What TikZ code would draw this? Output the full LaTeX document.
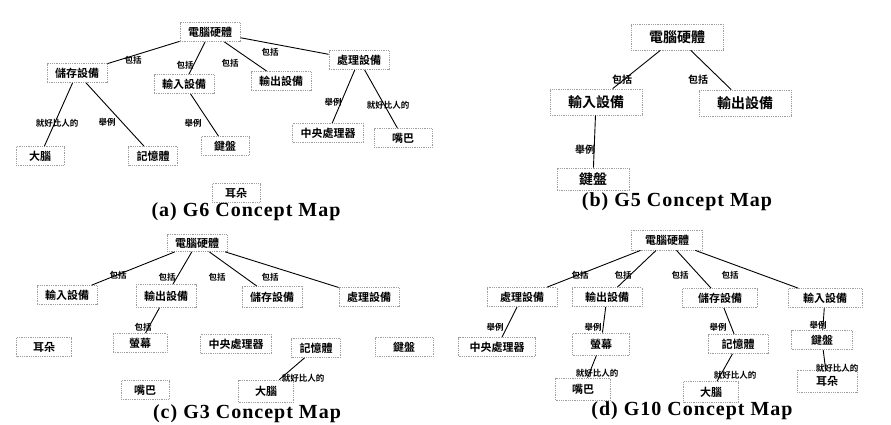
\documentclass[tikz,border=0pt]{standalone}
\usepackage{fontspec}
\setmainfont{Liberation Serif}
\newfontfamily\cjk{Noto Sans CJK TC}[BoldFont={Noto Sans CJK TC Bold}]
\newfontfamily\titlefont{Liberation Serif}[LetterSpace=5]
\usetikzlibrary{positioning}

\tikzset{
    concept/.style={draw=gray!75, densely dotted, thick, fill=white,
        font=\cjk\bfseries\fontsize{11}{11}\selectfont,
        inner xsep=8pt, inner ysep=2pt, minimum width=48pt, minimum height=19pt},
    bigconcept/.style={concept, font=\cjk\bfseries\fontsize{14}{14}\selectfont,
        minimum width=92pt, minimum height=26pt},
    linkword/.style={font=\cjk\bfseries\fontsize{8.5}{8.5}\selectfont, inner sep=1pt},
    maptitle/.style={font=\titlefont\bfseries\fontsize{20}{20}\selectfont, inner sep=0pt},
    link/.style={line width=0.9pt}
}

\begin{document}
\begin{tikzpicture}[x=1pt, y=-1pt]
    \useasboundingbox[fill=white] (0,0) rectangle (891,424);

    % (a) G6 concept map
    \node[concept] (aroot)  at (210,32)  {電腦硬體};
    \node[concept] (astore) at (77,73)   {儲存設備};
    \node[concept] (ain)    at (184,84)  {輸入設備};
    \node[concept] (aout)   at (281,81)  {輸出設備};
    \node[concept] (aproc)  at (359,60)  {處理設備};
    \node[concept] (abrain) at (40,156)  {大腦};
    \node[concept] (amem)   at (153,156) {記憶體};
    \node[concept] (akey)   at (225,146) {鍵盤};
    \node[concept] (acpu)   at (328,133) {中央處理器};
    \node[concept, minimum width=58pt] (amouth) at (403,138) {嘴巴};
    \node[concept] (aear)   at (236,193) {耳朵};

    \draw[link] (aroot) -- (astore);
    \draw[link] (aroot) -- (ain);
    \draw[link] (aroot) -- (aout);
    \draw[link] (aroot) -- (aproc);
    \draw[link] (astore) -- (abrain);
    \draw[link] (astore) -- (amem);
    \draw[link] (ain) -- (akey);
    \draw[link] (aproc) -- (acpu);
    \draw[link] (aproc) -- (amouth);

    \node[linkword] (al1) at (133,60)  {包括};
    \node[linkword] (al2) at (185,65)  {包括};
    \node[linkword] (al3) at (230,63)  {包括};
    \node[linkword] (al4) at (270,52)  {包括};
    \node[linkword] (al5) at (57,123)  {就好比人的};
    \node[linkword] (al6) at (107,122) {舉例};
    \node[linkword] (al7) at (193,123) {舉例};
    \node[linkword] (al8) at (333,102) {舉例};
    \node[linkword] (al9) at (388,105) {就好比人的};

    \node[maptitle] (atitle) at (246,212) {(a) G6 Concept Map};

    % (b) G5 concept map
    \node[bigconcept] (broot) at (677,37)  {電腦硬體};
    \node[bigconcept] (bin)   at (596,102) {輸入設備};
    \node[bigconcept] (bout)  at (745,103) {輸出設備};
    \node[bigconcept, minimum width=72pt, minimum height=22pt] (bkey) at (593,179) {鍵盤};

    \draw[link] (broot) -- (bin);
    \draw[link] (broot) -- (bout);
    \draw[link] (bin) -- (bkey);

    \node[linkword, font=\cjk\bfseries\fontsize{10}{10}\selectfont] (bl1) at (622,80)  {包括};
    \node[linkword, font=\cjk\bfseries\fontsize{10}{10}\selectfont] (bl2) at (698,80)  {包括};
    \node[linkword, font=\cjk\bfseries\fontsize{10}{10}\selectfont] (bl3) at (585,150) {舉例};

    \node[maptitle] (btitle) at (677,202) {(b) G5 Concept Map};

    % (c) G3 concept map
    \node[concept, minimum height=17pt] (croot) at (197,243) {電腦硬體};
    \node[concept] (cin)    at (67,295)  {輸入設備};
    \node[concept, minimum height=23pt] (cout) at (166,296) {輸出設備};
    \node[concept, minimum height=21pt] (cstore) at (272,297) {儲存設備};
    \node[concept] (cproc)  at (369,297) {處理設備};
    \node[concept, minimum width=55pt] (cear)   at (44,347)  {耳朵};
    \node[concept, minimum width=54pt] (cscreen) at (140,343) {螢幕};
    \node[concept] (ccpu)   at (236,344) {中央處理器};
    \node[concept] (cmem)   at (316,348) {記憶體};
    \node[concept, minimum width=58pt] (ckey)   at (404,347) {鍵盤};
    \node[concept] (cmouth) at (145,390) {嘴巴};
    \node[concept, minimum width=55pt, minimum height=22pt] (cbrain) at (266,391) {大腦};

    \draw[link] (croot) -- (cin);
    \draw[link] (croot) -- (cout);
    \draw[link] (croot) -- (cstore);
    \draw[link] (croot) -- (cproc);
    \draw[link] (cout) -- (cscreen);
    \draw[link] (cmem) -- (cbrain);

    \node[linkword] (cl1) at (118,275) {包括};
    \node[linkword] (cl2) at (167,277) {包括};
    \node[linkword] (cl3) at (217,277) {包括};
    \node[linkword] (cl4) at (270,277) {包括};
    \node[linkword] (cl5) at (143,327) {包括};
    \node[linkword] (cl6) at (303,378) {就好比人的};

    \node[maptitle] (ctitle) at (247,414) {(c) G3 Concept Map};

    % (d) G10 concept map
    \node[concept, minimum width=71pt, minimum height=20pt] (droot) at (667,240) {電腦硬體};
    \node[concept, minimum width=70pt] (dproc)  at (522,297) {處理設備};
    \node[concept, minimum width=70pt] (dout)   at (607,297) {輸出設備};
    \node[concept, minimum width=75pt] (dstore) at (720,298) {儲存設備};
    \node[concept, minimum width=74pt] (din)    at (825,298) {輸入設備};
    \node[concept, minimum width=77pt] (dcpu)   at (497,347) {中央處理器};
    \node[concept, minimum width=57pt, minimum height=22pt] (dscreen) at (601,344) {螢幕};
    \node[concept, minimum width=60pt] (dmem)   at (738,344) {記憶體};
    \node[concept, minimum width=61pt] (dkey)   at (822,340) {鍵盤};
    \node[concept, minimum width=55pt, minimum height=22pt] (dmouth) at (583,389) {嘴巴};
    \node[concept, minimum width=55pt, minimum height=21pt] (dbrain) at (711,392) {大腦};
    \node[concept, minimum width=60pt, minimum height=22pt] (dear)   at (827,381) {耳朵};

    \draw[link] (droot) -- (dproc);
    \draw[link] (droot) -- (dout);
    \draw[link] (droot) -- (dstore);
    \draw[link] (droot) -- (din);
    \draw[link] (dproc) -- (dcpu);
    \draw[link] (dout) -- (dscreen);
    \draw[link] (dscreen) -- (dmouth);
    \draw[link] (dstore) -- (dmem);
    \draw[link] (dmem) -- (dbrain);
    \draw[link] (din) -- (dkey);
    \draw[link] (dkey) -- (dear);

    \node[linkword] (dl1)  at (580,275) {包括};
    \node[linkword] (dl2)  at (623,275) {包括};
    \node[linkword] (dl3)  at (680,275) {包括};
    \node[linkword] (dl4)  at (730,275) {包括};
    \node[linkword] (dl5)  at (495,327) {舉例};
    \node[linkword] (dl6)  at (593,327) {舉例};
    \node[linkword] (dl7)  at (718,327) {舉例};
    \node[linkword] (dl8)  at (818,325) {舉例};
    \node[linkword] (dl9)  at (597,373) {就好比人的};
    \node[linkword] (dl10) at (735,375) {就好比人的};
    \node[linkword] (dl11) at (837,368) {就好比人的};

    \node[maptitle] (dtitle) at (692,411) {(d) G10 Concept Map};
\end{tikzpicture}
\end{document}
